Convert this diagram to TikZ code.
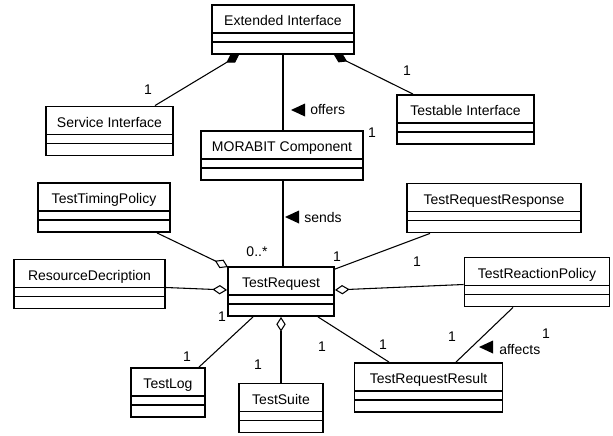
\documentclass[tikz,border=0pt]{standalone}
\usepackage{fontspec}
\setmainfont{Liberation Sans}
\usetikzlibrary{arrows.meta,calc}

\tikzset{
  umlclass/.style={draw, line width=1.4pt, inner sep=0pt, text height=15.5pt, text depth=21.25pt,
    font=\fontsize{10.5}{12}\selectfont,
    path picture={\draw[line width=0.8pt]
      ($(path picture bounding box.south west)!0.4286!(path picture bounding box.north west)$) --
      ($(path picture bounding box.south east)!0.4286!(path picture bounding box.north east)$)
      ($(path picture bounding box.south west)!0.245!(path picture bounding box.north west)$) --
      ($(path picture bounding box.south east)!0.245!(path picture bounding box.north east)$);}},
  assoc/.style={line width=0.8pt},
  aggr/.style={assoc, -{Diamond[open, length=11pt, width=7pt]}},
  comp/.style={assoc, -{Diamond[length=11pt, width=7pt]}},
  mult/.style={font=\fontsize{10.5}{12}\selectfont, inner sep=0.75pt},
}

\begin{document}
\begin{tikzpicture}[x=0.75pt,y=0.75pt,yscale=-1,xscale=1]
\useasboundingbox (0,0) rectangle (613,435);

% Class Nodes
\node [umlclass, minimum width=106.5pt] (ext) at (283,29.5) {Extended Interface};
\node [umlclass, minimum width=95.25pt] (srv) at (109.5,131) {Service Interface};
\node [umlclass, minimum width=102.75pt] (tbl) at (465.5,119.5) {Testable Interface};
\node [umlclass, minimum width=121.5pt] (mor) at (282,155.5) {MORABIT Component};
\node [umlclass, minimum width=99pt] (timing) at (104,207.5) {TestTimingPolicy};
\node [umlclass, minimum width=130.5pt] (resp) at (494,208) {TestRequestResponse};
\node [umlclass, minimum width=79.5pt] (req) at (281,291.5) {TestRequest};
\node [umlclass, minimum width=113.25pt] (res) at (89.5,284) {ResourceDecription};
\node [umlclass, minimum width=108.75pt] (react) at (537,282) {TestReactionPolicy};
\node [umlclass, minimum width=55.5pt] (log) at (168,392.5) {TestLog};
\node [umlclass, minimum width=63pt] (suite) at (281,408) {TestSuite};
\node [umlclass, minimum width=111pt] (result) at (428.5,387.5) {TestRequestResult};

%Straight Lines
\draw [comp] ($(srv.north)+(45.5,0)$) -- ($(ext.south)+(-44,0)$);
\draw [comp] ($(tbl.north)+(-52.5,0)$) -- ($(ext.south)+(51,0)$);
\draw [assoc] (ext.south) -- (ext.south |- mor.north);
\draw [assoc] (ext.south |- mor.south) -- (ext.south |- req.north);
\draw [aggr] ($(timing.south)+(53,0)$) -- ($(req.north west)+(1,1)$);
\draw [aggr] ($(res.east)+(0,3.5)$) -- ($(req.west)+(0,-1.5)$);
\draw [assoc] ($(resp.south)+(-64,0)$) -- ($(req.north east)+(0,3)$);
\draw [aggr] ($(react.west)+(0,2.5)$) -- ($(req.east)+(0,-1.5)$);
\draw [assoc] ($(req.south)+(-28,0)$) -- ($(log.north)+(31,0)$);
\draw [aggr] (suite.north) -- (req.south);
\draw [assoc] ($(req.south)+(37,0)$) -- ($(result.north)+(-39.5,0)$);
\draw [assoc] ($(react.south)+(-24,0)$) -- ($(result.north)+(27.5,0)$);

% Text Node
\node [mult, anchor=west] (offers) at (309,110) {offers};
\fill ($(offers.west)+(-4,-6.5)$) -- ++(0,13) -- ++(-14,-6.5) -- cycle;
% Text Node
\node [mult, anchor=west] (sends) at (303,217) {sends};
\fill ($(sends.west)+(-4,-6.5)$) -- ++(0,13) -- ++(-14,-6.5) -- cycle;
% Text Node
\node [mult, anchor=west] (affects) at (498,349) {affects};
\fill ($(affects.west)+(-5,-8.5)$) -- ++(0,13) -- ++(-14,-6.5) -- cycle;

% Multiplicities
\node [mult] (m1) at (148,90) {1};
\node [mult] (m2) at (407,71) {1};
\node [mult] (m3) at (372,133) {1};
\node [mult] (m4) at (257,252) {0..*};
\node [mult] (m5) at (337,257) {1};
\node [mult] (m6) at (417,262) {1};
\node [mult] (m7) at (222,317) {1};
\node [mult] (m8) at (187,357) {1};
\node [mult] (m9) at (258,365) {1};
\node [mult] (m10) at (322,347) {1};
\node [mult] (m11) at (383,345) {1};
\node [mult] (m12) at (452,337) {1};
\node [mult] (m13) at (546,334) {1};
\end{tikzpicture}
\end{document}
